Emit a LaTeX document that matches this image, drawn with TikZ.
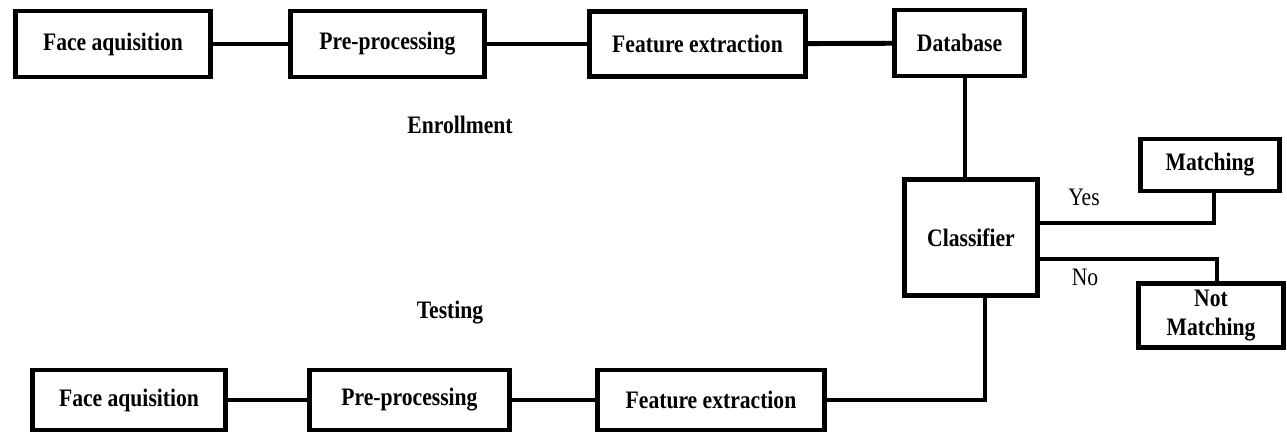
\documentclass[tikz,border=0pt]{standalone}
\usepackage{fontspec}
\setmainfont{Liberation Serif}[FakeStretch=0.86]
\tikzset{
  blk/.style={draw, line width=2.8pt, align=center, inner sep=1pt,
    font=\fontsize{14.3}{16}\selectfont\bfseries},
  lbl/.style={font=\fontsize{14.3}{16}\selectfont\bfseries},
  ans/.style={font=\fontsize{14.3}{16}\selectfont}
}

\begin{document}
\begin{tikzpicture}[x=0.02cm, y=-0.02cm, line width=2.8pt]
\useasboundingbox (0,0) rectangle (1287,434);

\node[blk, minimum width=3.9cm, minimum height=1.32cm] (faqA) at (113,44) {Face aquisition};
\node[blk, minimum width=3.88cm, minimum height=1.32cm] (preA) at (387.5,44) {Pre-processing};
\node[blk, minimum width=4.32cm, minimum height=1.3cm] (fexA) at (697.5,44) {Feature extraction};
\node[blk, minimum width=2.6cm, minimum height=1.32cm] (db) at (959.5,43) {Database};

\node[blk, minimum width=2.66cm, minimum height=2.32cm] (cls) at (971,237.5) {Classifier};
\node[blk, minimum width=2.78cm, minimum height=1.04cm] (match) at (1210,165) {Matching};
\node[blk, minimum width=2.9cm, minimum height=1.28cm] (notm) at (1211,315.5) {Not\\Matching};

\node[blk, minimum width=3.86cm, minimum height=1.2cm] (faqB) at (129,400) {Face aquisition};
\node[blk, minimum width=4cm, minimum height=1.2cm] (preB) at (409.5,400) {Pre-processing};
\node[blk, minimum width=4.54cm, minimum height=1.2cm] (fexB) at (711,400) {Feature extraction};

\node[lbl] (enr) at (460,125) {Enrollment};
\node[lbl] (tst) at (450,313) {Testing};
\node[ans] (yeslbl) at (1084,197) {Yes};
\node[ans] (nolbl) at (1085,277) {No};

\coordinate (yes) at (1214,223);
\coordinate (no) at (1217,259);

\draw (faqA) -- (preA);
\draw (preA) -- (fexA);
\draw (fexA) -- (db);
\draw ([xshift=0.11cm]db.south) -- ([xshift=0.11cm]db.south |- cls.north);
\draw (yes -| cls.east) -- (yes) -- (yes |- match.south);
\draw (no -| cls.east) -- (no) -- (no |- notm.north);
\draw ([xshift=0.28cm]cls.south) |- (fexB);
\draw (faqB) -- (preB);
\draw (preB) -- (fexB);
\end{tikzpicture}
\end{document}
